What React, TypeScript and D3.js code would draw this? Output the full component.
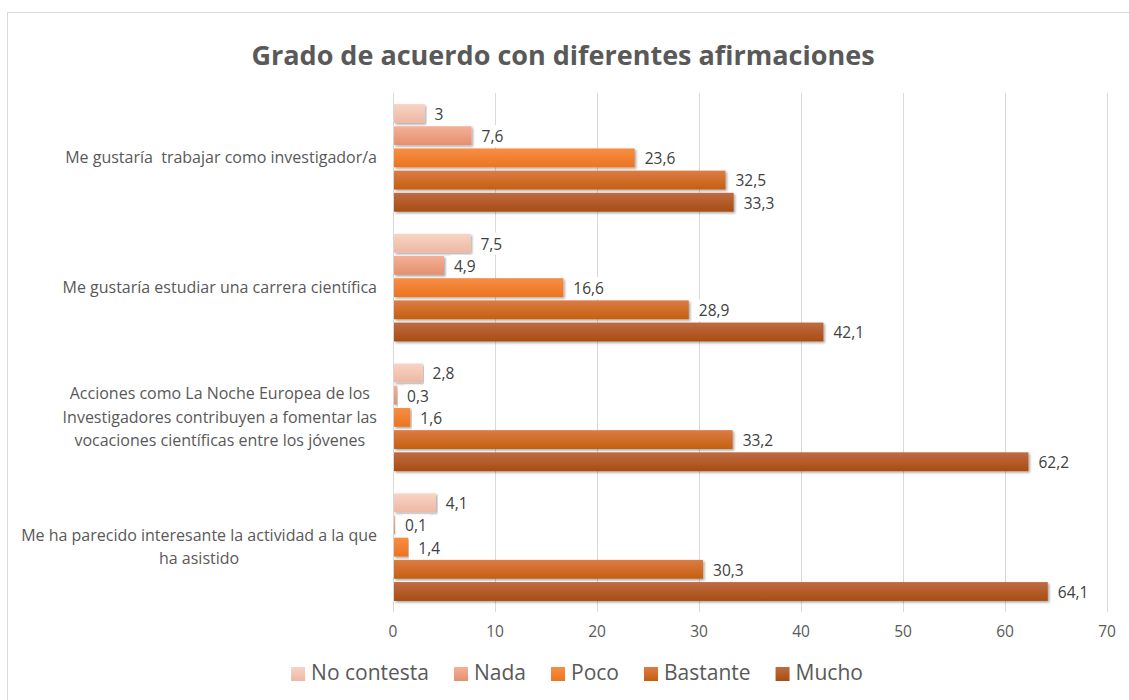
import React, { useEffect, useRef } from 'react';
import * as d3 from 'd3';

const categoryLines = [
  ['Me gustaría  trabajar como investigador/a'],
  ['Me gustaría estudiar una carrera científica'],
  ['Acciones como La Noche Europea de los', 'Investigadores contribuyen a fomentar las', 'vocaciones científicas entre los jóvenes'],
  ['Me ha parecido interesante la actividad a la que', 'ha asistido'],
];
const categories = categoryLines.map((l) => l.join(' '));

const seriesNames = ['No contesta', 'Nada', 'Poco', 'Bastante', 'Mucho'];
const noContesta = [3, 7.5, 2.8, 4.1];
const nada = [7.6, 4.9, 0.3, 0.1];
const poco = [23.6, 16.6, 1.6, 1.4];
const bastante = [32.5, 28.9, 33.2, 30.3];
const mucho = [33.3, 42.1, 62.2, 64.1];
const seriesValues = [noContesta, nada, poco, bastante, mucho];

const xTicks = [0, 10, 20, 30, 40, 50, 60, 70];

// gradient top / bottom per series
const gradTop = ['#f9d3c4', '#f4b096', '#f68e45', '#dc7c45', '#bf6b43'];
const gradBottom = ['#edb8a4', '#e4906f', '#ec7420', '#c55f10', '#a84d12'];

const FONT = '"Open Sans", "DejaVu Sans", sans-serif';
const W = 1129;
const H = 700;

const App = () => {
  const svgRef = useRef(null);

  useEffect(() => {
    document.body.style.margin = '0';
    const svg = d3.select(svgRef.current);
    svg.selectAll('*').remove();

    const x = d3.scaleLinear().domain([0, 70]).range([393, 1107]);
    const y0 = d3.scaleBand().domain(categories).range([93, 612]).paddingInner(0.145).paddingOuter(0.0725);
    const y1 = d3
      .scaleBand()
      .domain(seriesNames)
      .range([0, y0.bandwidth()])
      .paddingInner(0.15)
      .paddingOuter(0.075);

    const defs = svg.append('defs');
    seriesNames.forEach((s, i) => {
      const g = defs
        .append('linearGradient')
        .attr('id', 'grad' + i)
        .attr('x1', 0)
        .attr('y1', 0)
        .attr('x2', 0)
        .attr('y2', 1);
      g.append('stop').attr('offset', '0%').attr('stop-color', gradTop[i]);
      g.append('stop').attr('offset', '100%').attr('stop-color', gradBottom[i]);
    });
    const f = defs.append('filter').attr('id', 'shadow').attr('x', '-5%').attr('y', '-20%').attr('width', '110%').attr('height', '160%');
    f.append('feDropShadow')
      .attr('dx', 1.5)
      .attr('dy', 1.5)
      .attr('stdDeviation', 1)
      .attr('flood-color', '#000')
      .attr('flood-opacity', 0.35);

    // chart frame
    svg
      .append('rect')
      .attr('x', 7.5)
      .attr('y', 12.5)
      .attr('width', W)
      .attr('height', H)
      .attr('fill', '#fff')
      .attr('stroke', '#d9d9d9');

    // title
    svg
      .append('text')
      .attr('x', 563)
      .attr('y', 65)
      .attr('text-anchor', 'middle')
      .attr('font-family', FONT)
      .attr('font-weight', 'bold')
      .attr('font-size', 27)
      .attr('fill', '#595959')
      .text('Grado de acuerdo con diferentes afirmaciones');

    // gridlines
    const [yTop, yBot] = y0.range();
    svg
      .append('g')
      .selectAll('line')
      .data(xTicks)
      .join('line')
      .attr('x1', (d) => x(d) + 0.5)
      .attr('x2', (d) => x(d) + 0.5)
      .attr('y1', yTop)
      .attr('y2', yBot)
      .attr('stroke', '#d9d9d9');

    // tick labels
    svg
      .append('g')
      .selectAll('text')
      .data(xTicks)
      .join('text')
      .attr('x', (d) => x(d))
      .attr('y', 637)
      .attr('text-anchor', 'middle')
      .attr('font-family', FONT)
      .attr('font-size', 15.5)
      .attr('fill', '#595959')
      .text((d) => d);

    // bars
    const rows = [];
    categories.forEach((c, ci) => {
      seriesNames.forEach((s, si) => {
        rows.push({ c, s, si, v: seriesValues[si][ci] });
      });
    });

    svg
      .append('g')
      .selectAll('rect')
      .data(rows)
      .join('rect')
      .attr('x', x(0) + 1)
      .attr('y', (d) => y0(d.c) + y1(d.s))
      .attr('width', (d) => Math.max(0.8, x(d.v) - x(0)))
      .attr('height', y1.bandwidth())
      .attr('fill', (d) => `url(#grad${d.si})`)
      .attr('filter', 'url(#shadow)');

    // data labels with white background
    const lab = svg.append('g');
    rows.forEach((d) => {
      const g = lab.append('g');
      const t = g
        .append('text')
        .attr('x', x(d.v) + 11)
        .attr('y', y0(d.c) + y1(d.s) + y1.bandwidth() / 2 + 1)
        .attr('dy', '0.35em')
        .attr('font-family', FONT)
        .attr('font-size', 15.5)
        .attr('fill', '#404040')
        .text(String(d.v).replace('.', ','));
      const bb = t.node().getBBox();
      g.insert('rect', 'text')
        .attr('x', bb.x - 3)
        .attr('y', bb.y)
        .attr('width', bb.width + 6)
        .attr('height', bb.height)
        .attr('fill', '#fff');
    });

    // category labels (centered lines, block right-aligned to axis)
    const lineH = 23.5;
    categories.forEach((c, ci) => {
      const lines = categoryLines[ci];
      const g = svg.append('g');
      const texts = lines.map((ln, li) =>
        g
          .append('text')
          .attr('y', y0(c) + y0.bandwidth() / 2 + (li - (lines.length - 1) / 2) * lineH)
          .attr('dy', '0.35em')
          .attr('text-anchor', 'middle')
          .attr('font-family', FONT)
          .attr('font-size', 16)
          .attr('fill', '#595959')
          .style('white-space', 'pre')
          .text(ln)
      );
      const maxW = d3.max(texts, (t) => t.node().getComputedTextLength());
      texts.forEach((t) => t.attr('x', 377 - maxW / 2));
    });

    // legend
    const leg = svg.append('g');
    const items = seriesNames.map((s, i) => {
      const g = leg.append('g');
      g.append('rect').attr('width', 14).attr('height', 14).attr('y', -6).attr('fill', `url(#grad${i})`);
      const t = g
        .append('text')
        .attr('x', 20)
        .attr('dy', '0.35em')
        .attr('font-family', FONT)
        .attr('font-size', 21)
        .attr('fill', '#595959')
        .text(s);
      return { g, w: 20 + t.node().getComputedTextLength() };
    });
    const gap = 25;
    const total = d3.sum(items, (d) => d.w) + gap * (items.length - 1);
    let cx = 577 - total / 2;
    items.forEach((it) => {
      it.g.attr('transform', `translate(${cx},673)`);
      cx += it.w + gap;
    });
  }, []);

  return (
    <div style={{ background: 'white' }}>
      <svg ref={svgRef} width={W} height={H} style={{ display: 'block' }} />
    </div>
  );
};

export default App;
